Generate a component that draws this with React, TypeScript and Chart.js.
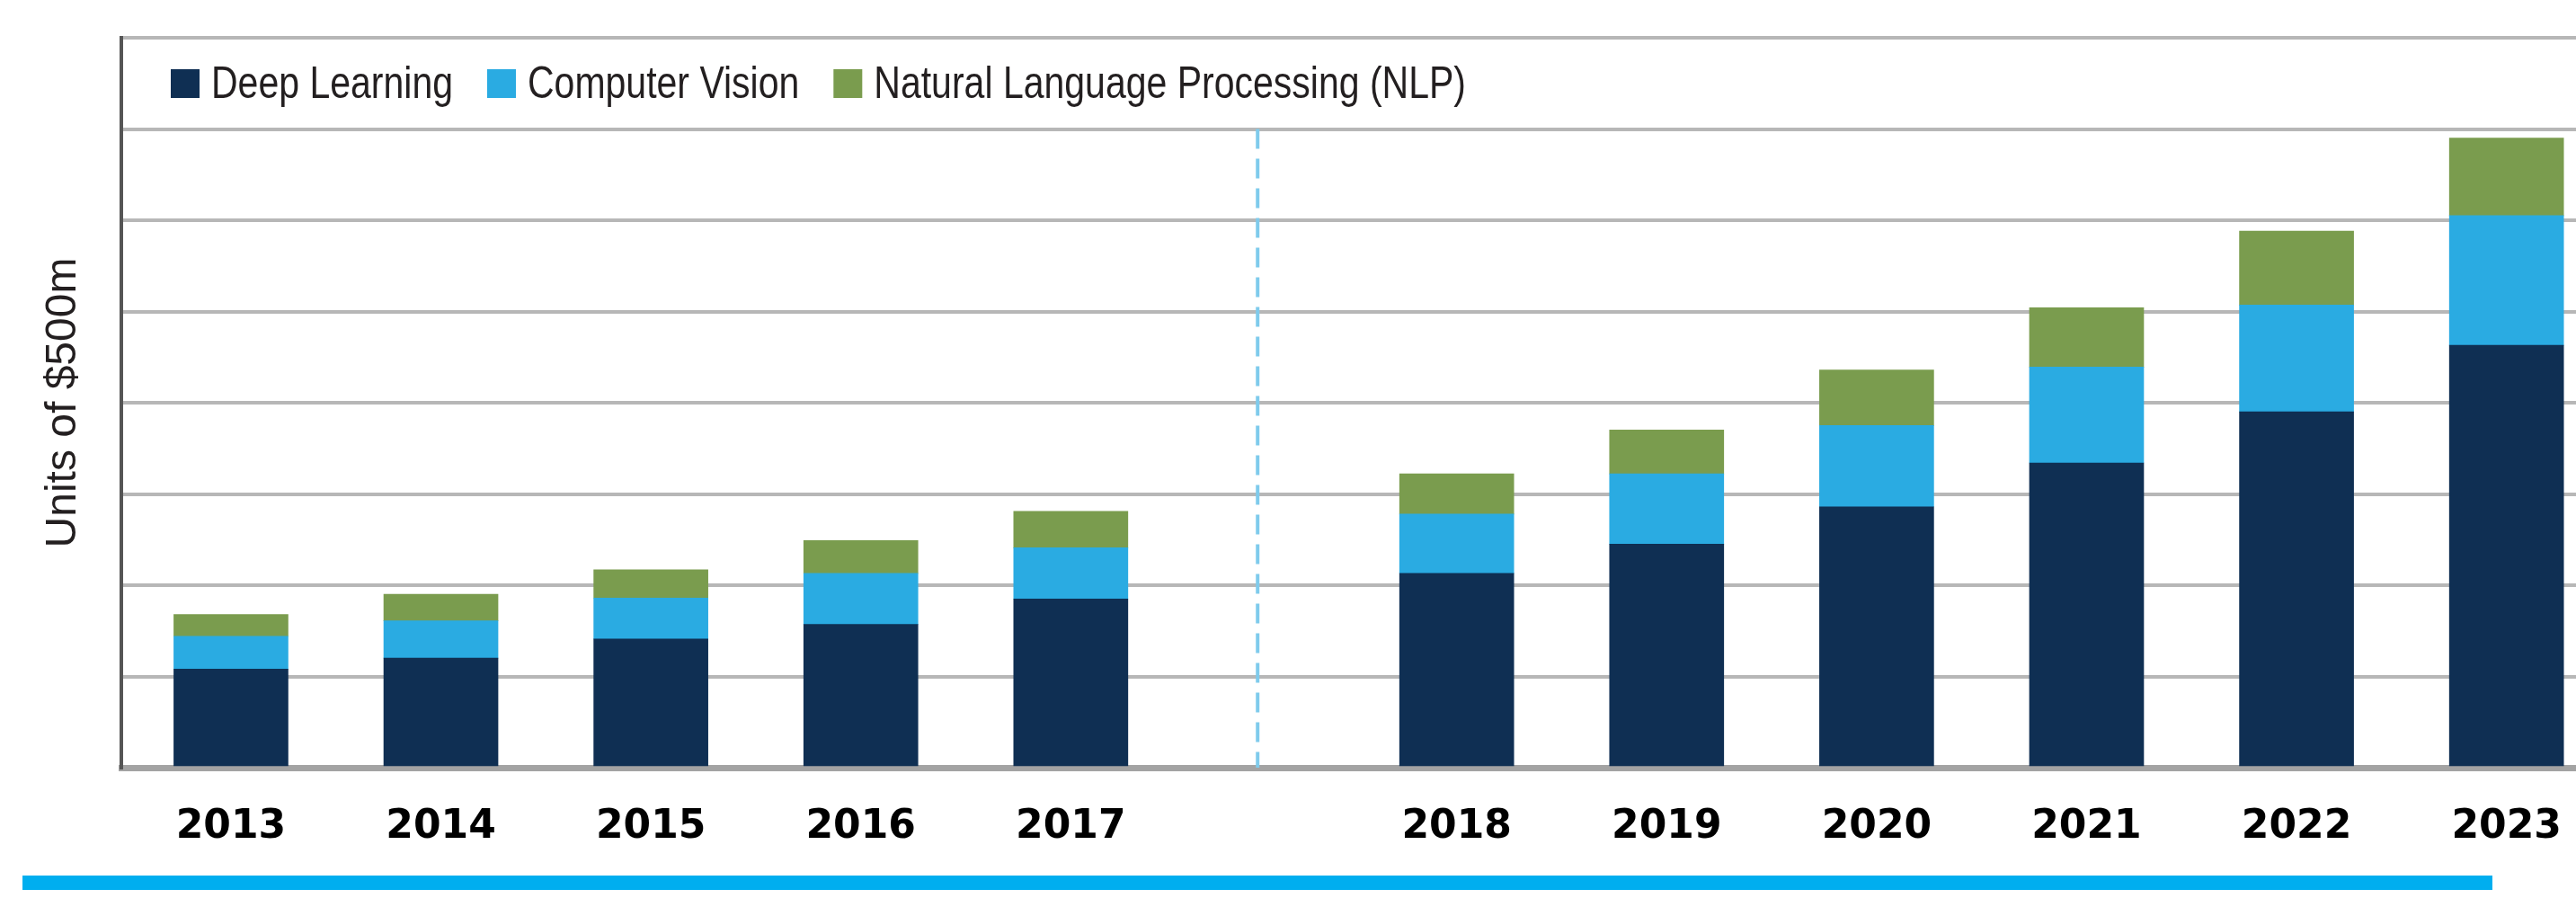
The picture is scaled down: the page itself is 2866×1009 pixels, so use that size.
import React, { useEffect, useRef } from 'react';
import { Chart, registerables } from 'chart.js';

Chart.register(...registerables);

// ---- data ----
const YEARS = ['2013', '2014', '2015', '2016', '2017', '2018', '2019', '2020', '2021', '2022', '2023'];
const DEEP_LEARNING = [1.08, 1.2, 1.41, 1.57, 1.85, 2.13, 2.45, 2.86, 3.34, 3.9, 4.63];
const COMPUTER_VISION = [0.36, 0.41, 0.45, 0.56, 0.56, 0.65, 0.77, 0.89, 1.05, 1.17, 1.42];
const NLP = [0.24, 0.29, 0.31, 0.36, 0.4, 0.44, 0.48, 0.61, 0.65, 0.81, 0.85];
const SERIES_LABELS = ['Deep Learning', 'Computer Vision', 'Natural Language Processing (NLP)'];
const Y_TITLE = 'Units of $500m';

// ---- layout / style ----
const FIRST_FORECAST_INDEX = 5; // 2018 starts the second group
const GROUP_GAP = 0.838; // extra slot width between the two groups
const DIVIDER_AT = 4.89;
const X_MIN = -0.522;
const X_MAX = 11.169;
const COLORS = ['#0f2f53', '#2aabe2', '#7a9c4e'];
const SANS = "'Liberation Sans', Arial, sans-serif";

const xPos = (i: number) => i + (i >= FIRST_FORECAST_INDEX ? GROUP_GAP : 0);

const dividerPlugin = {
  id: 'divider',
  beforeDatasetsDraw(chart: any, _args: any, opts: any) {
    const { ctx, chartArea, scales } = chart;
    const px = scales.x.getPixelForValue(opts.at);
    const top = scales.y.getPixelForValue(opts.from);
    ctx.save();
    ctx.strokeStyle = opts.color;
    ctx.lineWidth = opts.width;
    ctx.setLineDash(opts.dash);
    ctx.beginPath();
    ctx.moveTo(px, top);
    ctx.lineTo(px, chartArea.bottom);
    ctx.stroke();
    ctx.restore();
  },
};

// legend drawn inside the plot area, in a narrow (horizontally condensed) face
const insideLegendPlugin = {
  id: 'insideLegend',
  afterDraw(chart: any, _args: any, opts: any) {
    const { ctx } = chart;
    ctx.save();
    ctx.font = opts.font;
    ctx.textBaseline = 'alphabetic';
    ctx.textAlign = 'left';
    let x = opts.x;
    chart.data.datasets.forEach((ds: any) => {
      ctx.fillStyle = ds.backgroundColor;
      ctx.fillRect(x, opts.y, opts.box, opts.box);
      const tx = x + opts.box + opts.textGap;
      ctx.save();
      ctx.translate(tx, opts.y + opts.box);
      ctx.scale(opts.condense, 1);
      ctx.fillStyle = opts.color;
      ctx.fillText(ds.label, 0, 0);
      ctx.restore();
      x = tx + ctx.measureText(ds.label).width * opts.condense + opts.itemGap;
    });
    ctx.restore();
  },
};

export default function App() {
  const canvasRef = useRef<HTMLCanvasElement | null>(null);

  useEffect(() => {
    if (!canvasRef.current) return;
    const seriesValues = [DEEP_LEARNING, COMPUTER_VISION, NLP];
    const chart = new Chart(canvasRef.current, {
      type: 'bar',
      data: {
        datasets: seriesValues.map((vals, s) => ({
          label: SERIES_LABELS[s],
          data: vals.map((v, i) => ({ x: xPos(i), y: v })),
          backgroundColor: COLORS[s],
          borderWidth: 0,
          grouped: false,
          categoryPercentage: 1,
          barPercentage: 1,
          maxBarThickness: 127,
        })),
      },
      plugins: [dividerPlugin, insideLegendPlugin],
      options: {
        responsive: false,
        animation: false,
        devicePixelRatio: 1,
        layout: { padding: { left: 0, right: 0, top: 42, bottom: 0 } },
        plugins: {
          legend: { display: false },
          tooltip: { enabled: false },
          divider: { at: DIVIDER_AT, from: 7, color: '#7fcbec', width: 4, dash: [22, 11] },
          insideLegend: {
            x: 190,
            y: 77,
            box: 32,
            textGap: 13,
            itemGap: 38,
            condense: 0.82,
            font: `50px ${SANS}`,
            color: '#231f20',
          },
        } as any,
        scales: {
          x: {
            type: 'linear',
            min: X_MIN,
            max: X_MAX,
            offset: false,
            grid: { display: false },
            border: { display: true, color: '#a3a3a3', width: 7 },
            afterBuildTicks: (scale: any) => {
              scale.ticks = YEARS.map((_, i) => ({ value: xPos(i) }));
            },
            afterFit: (scale: any) => {
              scale.height = 155;
              scale.paddingLeft = 0;
              scale.paddingRight = 0;
            },
            ticks: {
              autoSkip: false,
              maxRotation: 0,
              minRotation: 0,
              padding: 32,
              color: '#000000',
              font: { family: "'DejaVu Sans', sans-serif", weight: 'bold', size: 44 },
              callback: (_v: any, index: number) => YEARS[index],
            },
          },
          y: {
            type: 'linear',
            stacked: true,
            min: 0,
            max: 8,
            grid: { color: '#b7b7b7', lineWidth: 4, drawTicks: false },
            border: { display: true, color: '#555555', width: 4 },
            ticks: { display: false, stepSize: 1 },
            afterFit: (scale: any) => {
              scale.width = 135;
            },
            title: {
              display: true,
              text: Y_TITLE,
              color: '#231f20',
              font: { family: SANS, size: 48 },
              padding: { top: 42, bottom: 0 },
            },
          },
        },
      } as any,
    });
    return () => chart.destroy();
  }, []);

  return (
    <div style={{ position: 'absolute', left: 0, top: 0, width: 2866, height: 1009, background: '#ffffff', overflow: 'hidden' }}>
      <canvas ref={canvasRef} width={2866} height={1009} style={{ display: 'block', width: 2866, height: 1009 }} />
      <div style={{ position: 'absolute', left: 25, top: 974, width: 2748, height: 16, background: '#00aeef' }} />
    </div>
  );
}
